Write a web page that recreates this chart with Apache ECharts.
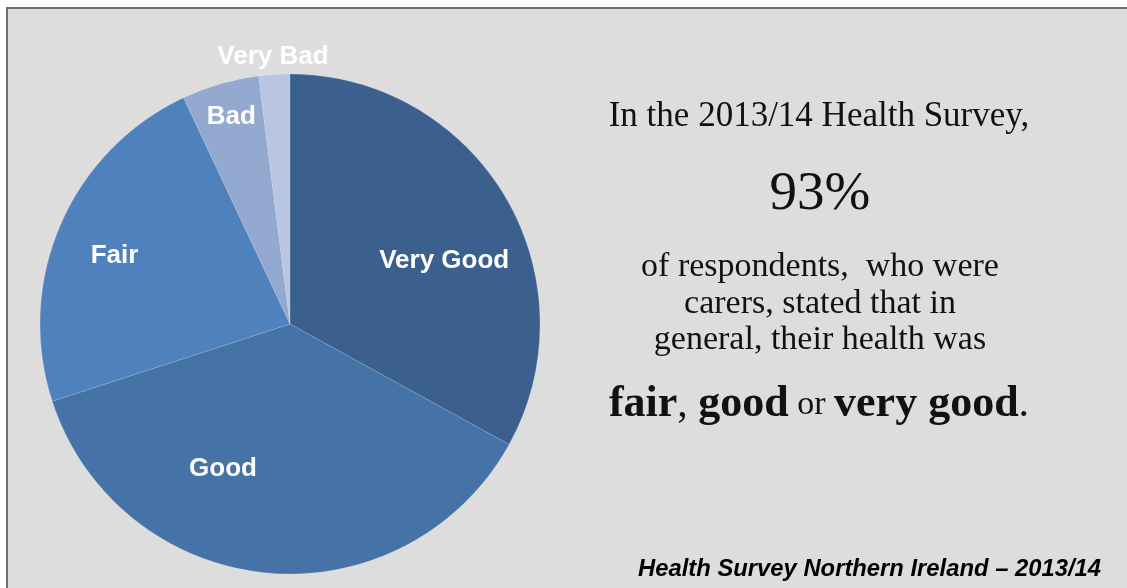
<!DOCTYPE html>
<html><head><meta charset="utf-8">
<script src="https://cdn.jsdelivr.net/npm/echarts@6/dist/echarts.min.js"></script>
<style>
html,body{margin:0;padding:0;background:#fff;width:1127px;height:588px;overflow:hidden;}
#box{position:absolute;left:6px;top:7px;width:1200px;height:700px;background:#dddddd;border-left:2px solid #6f6f6f;border-top:2px solid #6f6f6f;}
#main{position:absolute;left:0;top:0;width:1127px;height:588px;}
</style></head>
<body>
<div id="box"></div>
<div id="main"></div>
<script>
const categories = ['Very Good', 'Good', 'Fair', 'Bad', 'Very Bad'];
const values = [33, 37, 23, 5, 2];
const colors = ['#3b608e', '#4573a7', '#4f81bd', '#94a9d0', '#b9c6e1'];
const labelOffsets = [[44, 2], [-55, 17], [-58, -17], [-23, -84], [-9, -139]];

const chart = echarts.init(document.getElementById('main'), null, {renderer: 'canvas'});
const serif = '"Liberation Serif", "DejaVu Serif", serif';
chart.setOption({
  backgroundColor: 'transparent',
  animation: false,
  series: [{
    type: 'pie',
    center: [290, 324],
    radius: [0, 250],
    startAngle: 90,
    clockwise: true,
    avoidLabelOverlap: false,
    itemStyle: {borderColor: 'rgba(255,255,255,0.25)', borderWidth: 0.5},
    label: {
      show: true, position: 'inside', color: '#ffffff',
      fontFamily: 'Arial, "Liberation Sans", sans-serif', fontWeight: 'bold', fontSize: 26,
      formatter: '{b}'
    },
    labelLine: {show: false},
    emphasis: {disabled: true},
    data: categories.map((c, i) => ({
      name: c, value: values[i],
      itemStyle: {color: colors[i]},
      label: {offset: labelOffsets[i]}
    }))
  }],
  graphic: [
    {type: 'text', x: 819, y: 117, style: {text: 'In the 2013/14 Health Survey,', font: '35px ' + serif, fill: '#111', align: 'center', verticalAlign: 'middle'}},
    {type: 'text', x: 820, y: 195, style: {text: '93%', font: '55px ' + serif, fill: '#111', align: 'center', verticalAlign: 'middle'}},
    {type: 'text', x: 820, y: 267, style: {text: 'of respondents,  who were', font: '34px ' + serif, fill: '#111', align: 'center', verticalAlign: 'middle'}},
    {type: 'text', x: 820, y: 304, style: {text: 'carers, stated that in', font: '34px ' + serif, fill: '#111', align: 'center', verticalAlign: 'middle'}},
    {type: 'text', x: 820, y: 340, style: {text: 'general, their health was', font: '34px ' + serif, fill: '#111', align: 'center', verticalAlign: 'middle'}},
    {type: 'text', x: 819, y: 405, style: {
      text: '{b|fair}{n|, }{b|good}{s| or }{b|very good}{n|.}',
      align: 'center', verticalAlign: 'middle', fill: '#111',
      rich: {
        b: {font: 'bold 44px ' + serif, fill: '#111'},
        n: {font: '42px ' + serif, fill: '#111'},
        s: {font: '34px ' + serif, fill: '#111'}
      }
    }},
    {type: 'text', x: 1101, y: 569, style: {text: 'Health Survey Northern Ireland \u2013 2013/14', font: 'italic bold 23.8px Arial, "Liberation Sans", sans-serif', fill: '#000', align: 'right', verticalAlign: 'middle'}}
  ]
});
</script>
</body></html>
